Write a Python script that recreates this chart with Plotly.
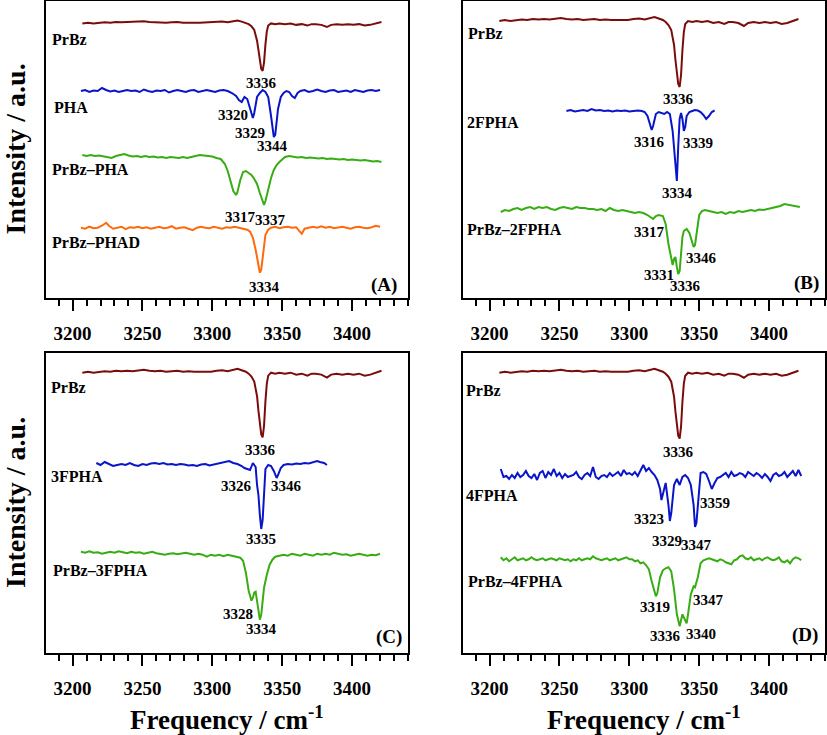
import plotly.graph_objects as go

# ---- data: IR spectra (cm-1, intensity relative to each trace's baseline) ----
prbz_x = [3207, 3211, 3215, 3219, 3223, 3227, 3231, 3235, 3239, 3243, 3247, 3251, 3255, 3259,
          3263, 3267, 3271, 3275, 3279, 3283, 3287, 3291, 3295, 3299, 3303, 3307, 3311, 3315,
          3318, 3321, 3324, 3326, 3328, 3330, 3332, 3333, 3334, 3335, 3336, 3337, 3338, 3339,
          3340, 3342, 3345, 3348, 3352, 3356, 3360, 3364, 3368, 3371, 3374, 3378, 3382, 3385,
          3389, 3393, 3397, 3401, 3405, 3409, 3413, 3417, 3421]
prbz_y = [-1, 0, -1, 0, 0.5, 0, 1, 0.5, 1, 0.5, 1.5, 2, 1, 0.5,
          1, 0, 0.5, 1, 0, 0.5, 0, 0, 0.5, 0, 1, 1.5, 0.5, 2,
          3, 1.5, 0, -2, -5, -10, -25, -40, -55, -64, -67, -55, -30, -12,
          -4, -1, -2, -1, -2, -1, -3, -2, -4, -2, -2, -3, -6, -3,
          -2, -3, -2, -3, -2, -4, -3, -1, 1]

pha_x = [3206, 3209, 3212, 3215, 3218, 3221, 3224, 3227, 3230, 3233, 3236, 3239, 3242, 3245,
         3248, 3251, 3254, 3257, 3260, 3263, 3266, 3269, 3272, 3275, 3278, 3281, 3284, 3287,
         3290, 3293, 3296, 3299, 3302, 3305, 3308, 3311, 3314, 3317, 3319, 3321, 3323, 3325,
         3327, 3329, 3330, 3332, 3334, 3336, 3338, 3340, 3342, 3344, 3345, 3347, 3349, 3351,
         3353, 3355, 3357, 3359, 3361, 3363, 3366, 3369, 3372, 3375, 3378, 3381, 3384, 3387,
         3390, 3393, 3396, 3399, 3402, 3405, 3408, 3411, 3414, 3417, 3420]
pha_y = [0, 1, -1, 0.5, 0, 3, 1, -0.5, 0.5, -1, 0, 1, 0, 0.5,
         -1, 1.5, 0, -1, 0.5, 0, 1, -1.5, 0, 1, 0, -1, 0.5, 1,
         -1, 0, 1, 0, -1, 0.5, 1, 0, -2, -5, -9, -11, -6, -8,
         -18, -27, -22, -6, -2, 1, -1, -6, -25, -46, -44, -18, -6, -2,
         0, -1, -5, -7, -2, 0, 1, -1, 0, 1.5, 0, -1, 0.5, 1,
         -1, 0, 0.5, -1, 1, 0, -1, 0.5, 1, 0, 1]

prbz_pha_x = [3207, 3210, 3213, 3216, 3219, 3222, 3225, 3228, 3231, 3234, 3237, 3240, 3243, 3246,
              3249, 3252, 3255, 3258, 3261, 3264, 3267, 3270, 3273, 3276, 3279, 3282, 3285, 3288,
              3291, 3294, 3297, 3300, 3303, 3306, 3309, 3311, 3313, 3315, 3317, 3318, 3320, 3322,
              3324, 3326, 3328, 3330, 3332, 3334, 3336, 3337, 3338, 3340, 3342, 3344, 3346, 3348,
              3350, 3352, 3355, 3358, 3361, 3364, 3367, 3370, 3373, 3376, 3379, 3382, 3385, 3388,
              3391, 3394, 3397, 3400, 3403, 3406, 3409, 3412, 3415, 3418, 3421]
prbz_pha_y = [1, 0, 1, 0, 0.5, -0.5, -1, -2, 0, 1, 2, 0.5, -0.5, 0,
              -1, 0, -1, -0.5, -1.5, -1, -2, -1, -1.5, -2, -1, -2, -1, 0,
              1, 0.5, 0, -0.5, -2, -3, -8, -15, -25, -35, -39, -36, -24, -16,
              -15, -17, -19, -23, -28, -37, -46, -49, -45, -33, -22, -14, -9, -6,
              -3, -1, 0, -1, -1.5, -1, -2, -1.5, -2, -2.5, -2, -3, -2.5, -3,
              -3.5, -3, -4, -3.5, -4, -4.5, -4, -5, -5.5, -5, -6]

prbz_phad_x = [3206, 3209, 3212, 3215, 3218, 3221, 3224, 3226, 3229, 3232, 3235, 3238, 3241, 3244,
               3247, 3250, 3253, 3256, 3259, 3262, 3265, 3268, 3271, 3274, 3277, 3280, 3283, 3286,
               3289, 3292, 3295, 3298, 3301, 3304, 3307, 3310, 3313, 3316, 3319, 3322, 3325, 3327,
               3329, 3331, 3333, 3334, 3335, 3336, 3337, 3338, 3340, 3342, 3345, 3348, 3351, 3354,
               3357, 3360, 3362, 3364, 3366, 3369, 3372, 3375, 3378, 3381, 3384, 3387, 3390, 3393,
               3396, 3399, 3402, 3405, 3408, 3411, 3414, 3417, 3420]
prbz_phad_y = [0, -1, 1, -0.5, 0, 2, 5, 2, -1, 0, 1, -1.5, 0.5, 0,
               1, -0.5, 0.5, -1, 0, 1, -0.5, 0, 1.5, -1, 0, 0.5, -1, -2.5,
               0, 1, 0, -0.5, 1, 0, -1, 0.5, 0, 1, 0, -1, -2, -4,
               -10, -22, -38, -45, -42, -30, -16, -7, -2, 0, 1, -0.5, 0.5, 1,
               0, 0.5, -3, -6, -1, 0, 1, 0, 1.5, 0, 1, -0.5, 0.5, 1,
               0, -1, 0.5, 1, 0, -0.5, 0.5, 2, 1]

fpha2_x = [3255, 3258, 3261, 3264, 3267, 3270, 3273, 3276, 3279, 3282, 3285, 3288, 3291, 3294,
           3297, 3300, 3303, 3306, 3309, 3311, 3313, 3315, 3316, 3317, 3319, 3321, 3323, 3325,
           3327, 3329, 3331, 3332, 3333, 3334, 3335, 3336, 3337, 3338, 3339, 3340, 3341, 3343,
           3345, 3347, 3349, 3351, 3353, 3355, 3357, 3359, 3361]
fpha2_y = [0, 1, -0.5, 0.5, 1, 0, 2, 0.5, 1, 0, 0.5, -0.5, 0.5, 0,
           0.5, -0.5, 0, 0.5, 0, -1, -5, -15, -19, -15, -3, -1, -2, -3,
           -1, -3, -20, -40, -58, -70, -35, -8, -2, -8, -20, -16, -5, -1,
           0, 1, 0.5, -1, -4, -8, -5, -1, 0.5]

prbz_fpha2_x = [3208, 3211, 3214, 3217, 3220, 3223, 3226, 3229, 3232, 3235, 3238, 3241, 3244, 3247,
                3250, 3253, 3256, 3259, 3262, 3265, 3268, 3271, 3274, 3277, 3280, 3283, 3286, 3289,
                3292, 3295, 3298, 3301, 3304, 3307, 3310, 3313, 3315, 3317, 3319, 3321, 3324, 3326,
                3328, 3330, 3331, 3332, 3333, 3334, 3335, 3336, 3337, 3338, 3339, 3341, 3343, 3345,
                3346, 3347, 3349, 3350, 3352, 3354, 3357, 3360, 3363, 3366, 3369, 3372, 3375, 3378,
                3381, 3384, 3387, 3390, 3393, 3396, 3399, 3402, 3405, 3408, 3411, 3414, 3417, 3420,
                3422]
prbz_fpha2_y = [-3, -1, -2, 0, 1, -1, 1, 2, 0, 2, 1, 2, 0, -1,
                1, 2, 1, 0, 2, 1, 1, 0, 0, -1, 0, -2, 1, -1,
                -2, -1, -2, -3, -4, -3, -4, -6, -8, -10, -7, -6, -7, -15,
                -35, -52, -56, -50, -48, -58, -65, -62, -45, -28, -22, -20, -24, -34,
                -38, -36, -15, -6, -2, -1, -2, -3, -4, -3, -5, -3, -4, -2,
                -3, -2, -1, -2, -0.5, -1, 0, 1, 1.5, 3, 5, 4, 3, 2,
                2]

fpha3_x = [3217, 3220, 3223, 3226, 3229, 3232, 3235, 3238, 3241, 3244, 3247, 3250, 3253, 3256,
           3259, 3262, 3265, 3268, 3271, 3274, 3277, 3280, 3283, 3286, 3289, 3292, 3295, 3298,
           3301, 3304, 3307, 3310, 3312, 3315, 3318, 3321, 3323, 3325, 3327, 3329, 3331, 3332,
           3333, 3334, 3335, 3336, 3337, 3338, 3340, 3342, 3344, 3346, 3347, 3349, 3351, 3354,
           3357, 3360, 3363, 3366, 3369, 3372, 3375, 3377, 3380, 3382]
fpha3_y = [2, 0, 3, 1, -1, 0, 1, 0, 2, 0, -1, 1, 0, 1.5,
           2, 1, 2, 0.5, 1, 0, 1, 0.5, -0.5, 0, -1, 0.5, 1, -0.5,
           0.5, 1, 2, 3, 4, 2, 1, -1, -3, -4, -5, 2, -2, -20,
           -30, -50, -64, -55, -25, -4, 0, -1, -6, -13, -10, -3, 0, 1,
           0.5, 1.5, 1, 2, 1.5, 2.5, 4, 3, 2, 0]

prbz_fpha3_x = [3206, 3209, 3212, 3215, 3218, 3221, 3224, 3227, 3230, 3233, 3236, 3239, 3242, 3245,
                3248, 3251, 3254, 3257, 3260, 3263, 3266, 3269, 3272, 3275, 3278, 3281, 3284, 3287,
                3290, 3293, 3296, 3299, 3302, 3305, 3308, 3311, 3314, 3317, 3320, 3322, 3324, 3326,
                3328, 3329, 3330, 3331, 3332, 3333, 3334, 3335, 3336, 3337, 3339, 3341, 3343, 3345,
                3348, 3351, 3354, 3357, 3360, 3363, 3366, 3369, 3372, 3375, 3378, 3381, 3384, 3387,
                3390, 3393, 3396, 3399, 3402, 3405, 3408, 3411, 3414, 3417, 3420]
prbz_fpha3_y = [1, 0, 1.5, 0, 0.5, -1, 0, 1, 0, 1.5, 0.5, -0.5, 1, 0,
                0.5, -1, 0, 1, -0.5, -1, -2, -1, -0.5, -1.5, -1, 0, -1, -2,
                -1, -2, -4, -2, -3, -2, -3.5, -2, -3, -4, -5, -8, -20, -38,
                -48, -45, -40, -39, -48, -60, -67, -62, -48, -35, -22, -12, -7, -4,
                -3, -2, -3, -1, -2, -3, -1, -2, -3, -1, -2, -1, -2, 0,
                -1, -2, -1.5, -3, -2, -1, -2, -3, -2, -2.5, -1]

fpha4_x = [3208, 3210, 3212, 3214, 3216, 3218, 3220, 3222, 3224, 3226, 3228, 3230, 3232, 3234,
           3236, 3238, 3240, 3242, 3244, 3246, 3248, 3250, 3252, 3254, 3256, 3258, 3260, 3262,
           3264, 3266, 3268, 3270, 3272, 3274, 3276, 3278, 3280, 3282, 3284, 3286, 3288, 3290,
           3292, 3294, 3296, 3298, 3300, 3302, 3304, 3306, 3308, 3310, 3312, 3314, 3316, 3318,
           3320, 3322, 3323, 3324, 3326, 3328, 3329, 3330, 3332, 3334, 3336, 3338, 3340, 3342,
           3344, 3346, 3347, 3348, 3350, 3351, 3353, 3355, 3357, 3359, 3361, 3363, 3365, 3367,
           3369, 3371, 3373, 3375, 3377, 3379, 3381, 3383, 3385, 3387, 3389, 3391, 3393, 3395,
           3397, 3399, 3401, 3403, 3405, 3407, 3409, 3411, 3413, 3415, 3417, 3419, 3421, 3423]
fpha4_y = [6, -2, -1, -4, 0, -3, 2, -2, 0, 4, -1, -3, 1, -5,
           2, 4, -3, 3, 0, 6, -1, 2, -3, 1, -2, -1, 0, 3,
           -2, -4, 0, 2, -1, 8, -2, -4, -1, 0, -2, 2, -1, 1,
           3, -1, 5, 1, 2, 0, 3, -1, 5, 10, 4, 7, 3, 0,
           -5, -14, -25, -20, -8, -30, -46, -38, -10, -4, -10, -2, 0, -3,
           -10, -30, -52, -48, -15, 2, 3, 1, -6, -14, -8, -3, -2, 0,
           2, -2, 3, -1, 0, 2, 1, -2, 3, 1, -1, 2, 0, -3,
           1, -2, -6, 0, 2, -1, 0, 3, -2, 1, 4, -1, 5, -1]

prbz_fpha4_x = [3208, 3210, 3212, 3214, 3216, 3218, 3220, 3222, 3224, 3226, 3228, 3230, 3232, 3234,
                3236, 3238, 3240, 3242, 3244, 3246, 3248, 3250, 3252, 3254, 3256, 3258, 3260, 3262,
                3264, 3266, 3268, 3270, 3272, 3274, 3276, 3278, 3280, 3282, 3284, 3286, 3288, 3290,
                3292, 3294, 3296, 3298, 3300, 3302, 3304, 3306, 3308, 3310, 3312, 3314, 3316, 3318,
                3319, 3320, 3322, 3324, 3326, 3328, 3330, 3332, 3334, 3336, 3337, 3338, 3339, 3341,
                3342, 3344, 3346, 3347, 3349, 3351, 3353, 3355, 3357, 3359, 3361, 3363, 3365, 3367,
                3369, 3371, 3373, 3375, 3377, 3379, 3381, 3383, 3385, 3387, 3389, 3391, 3393, 3395,
                3397, 3399, 3401, 3403, 3405, 3407, 3409, 3411, 3413, 3415, 3417, 3419, 3421, 3423]
prbz_fpha4_y = [2, -1, 1, -2, 0, 2, -1, 0, 1, -1, 0, 2, 0, -1,
                0, 1, -1, 0, 1, 0, -1, 1, 0, -1, 0, -2, 0, -1,
                1, -1, 0, 1, 0, 3, 1, 0, -1, 0, 1, -1, 0, 1,
                -1, 0, 1, 2, 0, 0, -2, -1, -4, -3, -6, -10, -22, -34,
                -37, -34, -18, -11, -9, -8, -12, -30, -55, -67, -62, -55, -58, -64,
                -55, -35, -27, -28, -18, -4, -1, 0, 1, 0, -1, -2, 0, -1,
                -3, -4, -5, -1, 0, 3, 4, 1, 0, 2, -1, 0, 1, -1,
                1, 2, 0, -1, 0, 2, -2, -3, -1, -4, 0, 2, 1, -1]

# ---- styling ----
DARKRED = '#7B0C0C'
BLUE = '#0A14C8'
GREEN = '#38AC14'
ORANGE = '#FF6A10'
FONT = 'Liberation Serif, Times New Roman, serif'
W, H = 827, 735

# panel frames in pixels: (left, top, right, bottom)
panels = {
    'A': (46, 1, 408, 298),
    'B': (463, 1, 825, 298),
    'C': (46, 353.3, 408, 652.7),
    'D': (463, 353.3, 825, 652.7),
}

# traces per panel: (x, y, color, baseline px from panel top, scale)
traces = {
    'A': [(prbz_x, prbz_y, DARKRED, 21.7, 0.72),
          (pha_x, pha_y, BLUE, 90, 1.0),
          (prbz_pha_x, prbz_pha_y, GREEN, 155, 1.0),
          (prbz_phad_x, prbz_phad_y, ORANGE, 226.7, 1.0)],
    'B': [(prbz_x, prbz_y, DARKRED, 19, 1.0),
          (fpha2_x, fpha2_y, BLUE, 110, 1.0),
          (prbz_fpha2_x, prbz_fpha2_y, GREEN, 208, 1.0)],
    'C': [(prbz_x, prbz_y, DARKRED, 18.4, 0.98),
          (fpha3_x, fpha3_y, BLUE, 111.7, 1.0),
          (prbz_fpha3_x, prbz_fpha3_y, GREEN, 199.4, 1.0)],
    'D': [(prbz_x, prbz_y, DARKRED, 18.4, 1.0),
          (fpha4_x, fpha4_y, BLUE, 121.7, 1.0),
          (prbz_fpha4_x, prbz_fpha4_y, GREEN, 206, 1.0)],
}

# labels: (x in cm-1, y px from panel top, text)
names = {
    'A': [(3184, 39, 'PrBz'), (3185.5, 106.3, 'PHA'), (3184, 169, 'PrBz\u2013PHA'), (3184, 241.7, 'PrBz\u2013PHAD')],
    'B': [(3183, 32.3, 'PrBz'), (3182.5, 121.3, '2FPHA'), (3182.5, 228.3, 'PrBz\u20132FPHA')],
    'C': [(3183.5, 34, 'PrBz'), (3183.5, 122.7, '3FPHA'), (3184.5, 216.7, 'PrBz\u20133FPHA')],
    'D': [(3182, 36.7, 'PrBz'), (3181.8, 141.7, '4FPHA'), (3183, 228.3, 'PrBz\u20134FPHA')],
}
peaks = {
    'A': [(3335, 81.7, '3336'), (3314.7, 114, '3320'), (3327, 132.3, '3329'), (3342.9, 145, '3344'),
          (3320.5, 215.7, '3317'), (3341.6, 219, '3337'), (3337, 286.3, '3334')],
    'B': [(3335, 98.3, '3336'), (3314.7, 140.7, '3316'), (3348.8, 142.3, '3339'), (3334.5, 191.7, '3334'),
          (3314.7, 231.3, '3317'), (3351.3, 256.7, '3346'), (3321, 274, '3331'), (3340.2, 285, '3336')],
    'C': [(3334.5, 96.7, '3336'), (3317.6, 132.7, '3326'), (3353.3, 132.7, '3346'), (3335, 186, '3335'),
          (3318.3, 261, '3328'), (3335, 276, '3334')],
    'D': [(3335.5, 99, '3336'), (3314, 166, '3323'), (3361.3, 150, '3359'), (3326.6, 187.7, '3329'),
          (3348.1, 191.7, '3347'), (3318.7, 253.3, '3319'), (3357, 246.7, '3347'),
          (3326.2, 282.7, '3336'), (3351, 281, '3340')],
}
letters = {'A': (3423, 284), 'B': (3427, 282.3), 'C': (3426.6, 283.3), 'D': (3425.8, 281.7)}

fig = go.Figure()
annotations = []
layout_axes = {}

for i, key in enumerate(['A', 'B', 'C', 'D']):
    n = i + 1
    left, top, right, bottom = panels[key]
    height = bottom - top
    xa = 'x' if n == 1 else f'x{n}'
    ya = 'y' if n == 1 else f'y{n}'
    for xs, ys, color, base, scale in traces[key]:
        fig.add_trace(go.Scatter(x=xs, y=[base - scale * v for v in ys], mode='lines',
                                 line=dict(color=color, width=2), xaxis=xa, yaxis=ya,
                                 showlegend=False, hoverinfo='skip'))
    layout_axes['xaxis' if n == 1 else f'xaxis{n}'] = dict(
        domain=[left / W, right / W], anchor=ya, range=[3181, 3440],
        showline=True, mirror=True, linecolor='black', linewidth=2, showgrid=False, zeroline=False,
        tick0=3200, dtick=50, ticks='outside', ticklen=11, tickwidth=2, tickcolor='black',
        ticklabelstandoff=6,
        tickfont=dict(family=FONT, size=19, color='black', weight='bold'),
        minor=dict(dtick=10, ticks='outside', ticklen=6, tickwidth=1.5, tickcolor='black'),
    )
    layout_axes['yaxis' if n == 1 else f'yaxis{n}'] = dict(
        domain=[1 - bottom / H, 1 - top / H], anchor=xa, range=[height, 0],
        showline=True, mirror=True, linecolor='black', linewidth=2, showgrid=False, zeroline=False,
        showticklabels=False, ticks='',
    )
    for x, y, t in names[key]:
        annotations.append(dict(x=x, y=y, xref=xa, yref=ya, text=t, showarrow=False,
                                xanchor='left', yanchor='middle',
                                font=dict(family=FONT, size=16, color='black', weight='bold')))
    for x, y, t in peaks[key]:
        annotations.append(dict(x=x, y=y, xref=xa, yref=ya, text=t, showarrow=False,
                                xanchor='center', yanchor='middle',
                                font=dict(family=FONT, size=15, color='black', weight='bold')))
    lx, ly = letters[key]
    annotations.append(dict(x=lx, y=ly, xref=xa, yref=ya, text=f'({key})', showarrow=False,
                            xanchor='center', yanchor='middle',
                            font=dict(family=FONT, size=19, color='black', weight='bold')))

# axis titles
for yc in [(1 + 298) / 2, (353.3 + 652.7) / 2]:
    annotations.append(dict(x=15 / W, y=1 - yc / H, xref='paper', yref='paper',
                            text='Intensity / a.u.', textangle=-90, showarrow=False,
                            xanchor='center', yanchor='middle',
                            font=dict(family=FONT, size=28, color='black', weight='bold')))
for xc in [(46 + 408) / 2, (463 + 825) / 2]:
    annotations.append(dict(x=xc / W, y=1 - 718 / H, xref='paper', yref='paper',
                            text='Frequency / cm<sup>-1</sup>', showarrow=False,
                            xanchor='center', yanchor='middle',
                            font=dict(family=FONT, size=27, color='black', weight='bold')))

fig.update_layout(
    width=W, height=H,
    margin=dict(l=0, r=0, t=0, b=0),
    plot_bgcolor='white', paper_bgcolor='white',
    annotations=annotations,
    **layout_axes,
)

# drop the default page margin so the figure sits at the window's corner
fig.write_html("out.html", config={'displayModeBar': False},
               post_script="document.body.style.margin='0';document.body.style.overflow='hidden';")
